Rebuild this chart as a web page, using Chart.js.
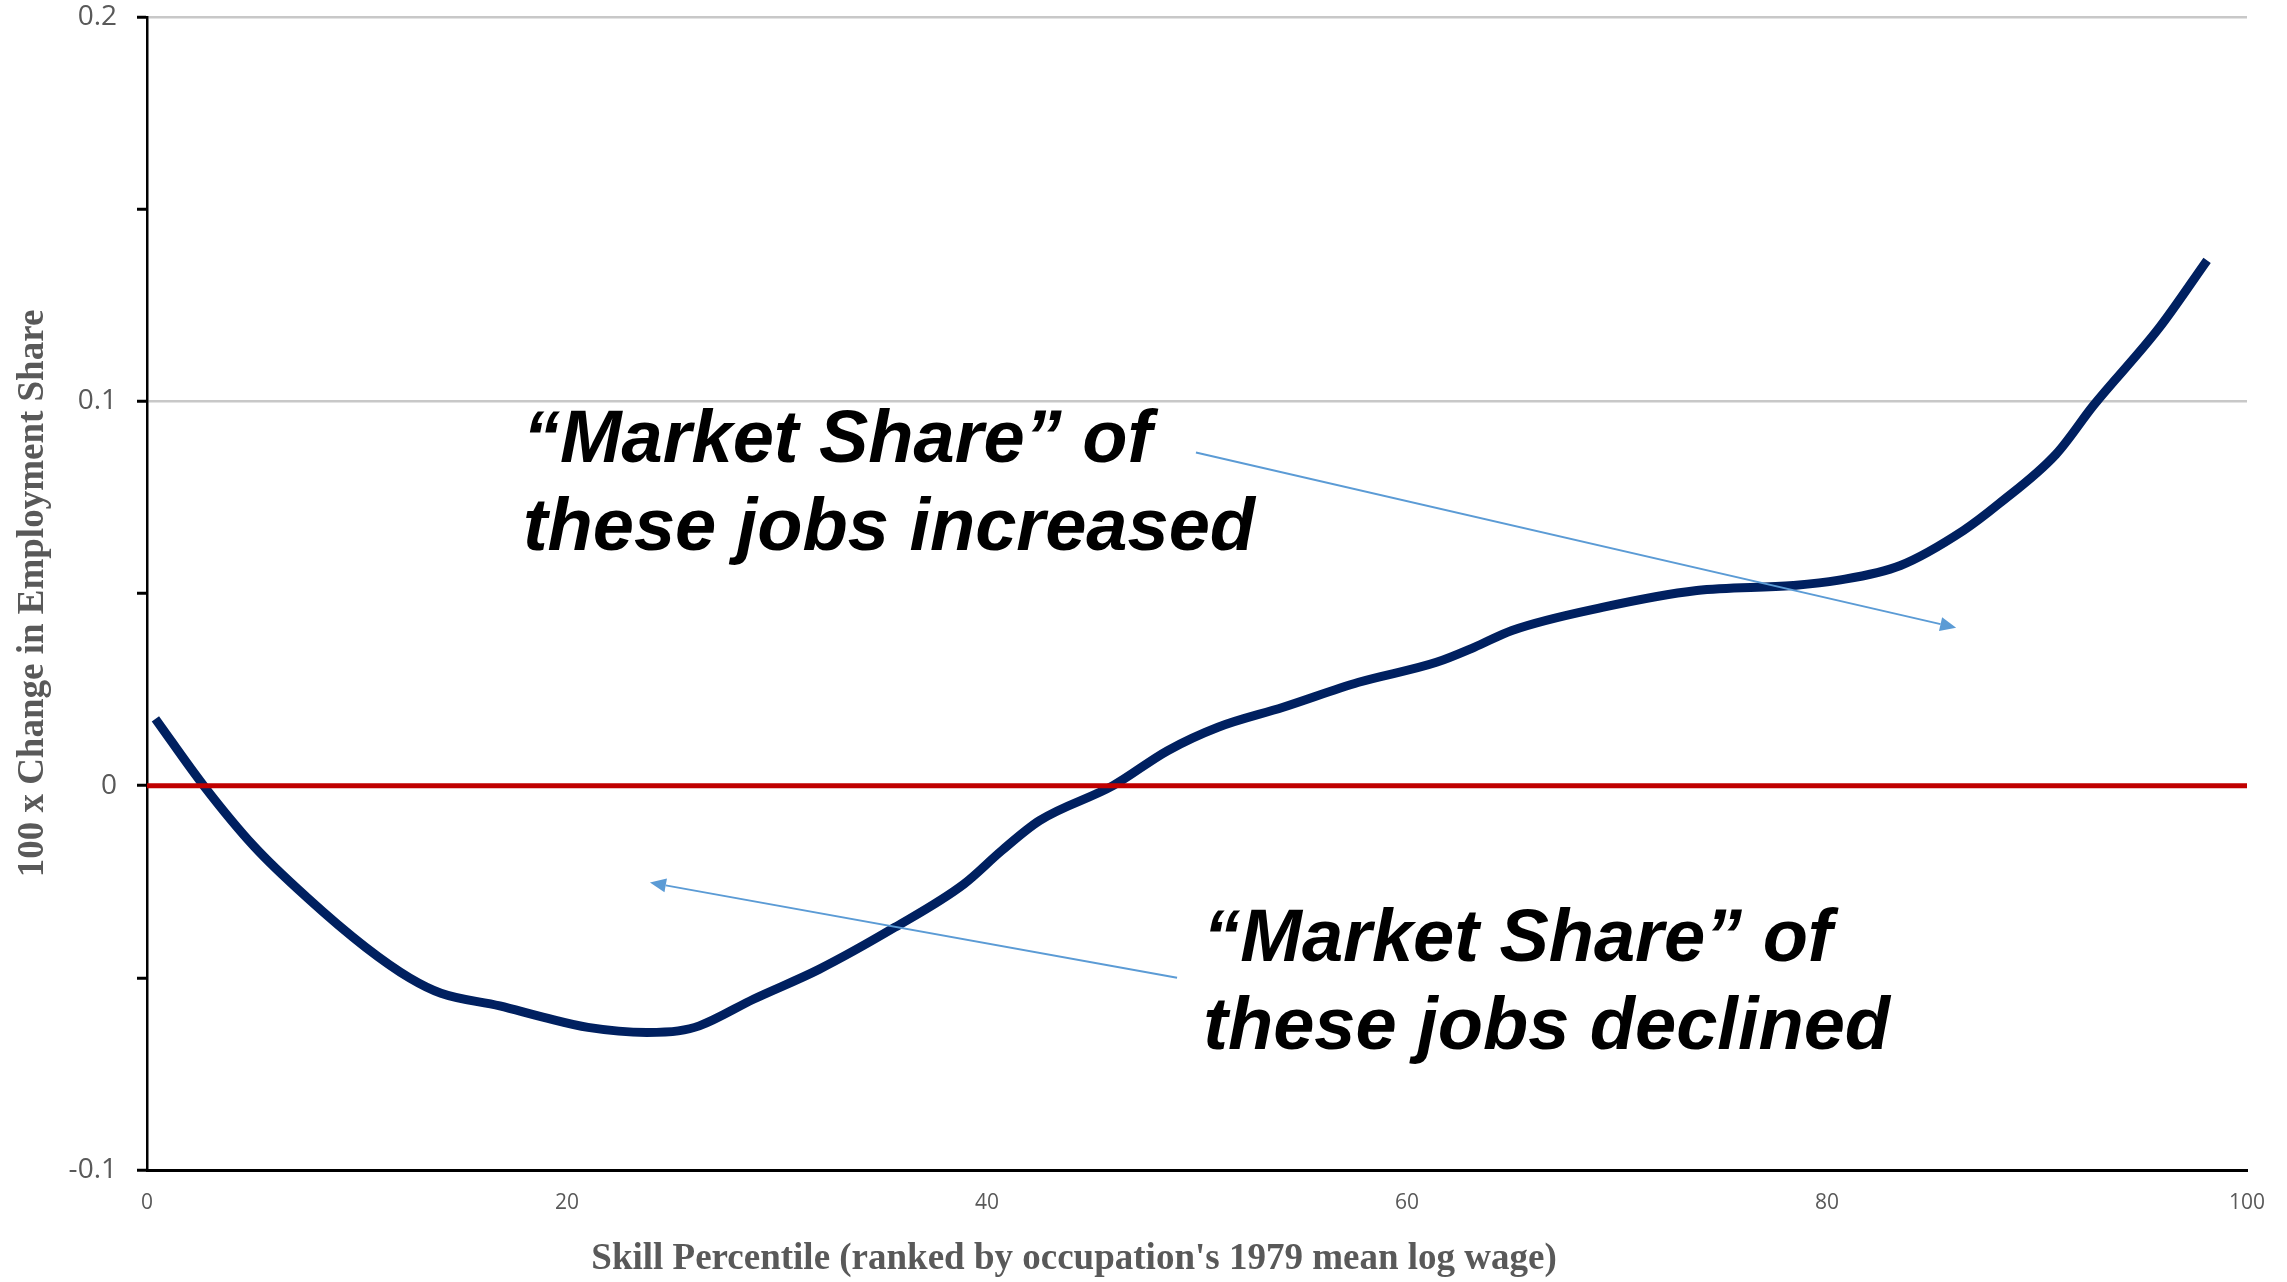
<!DOCTYPE html>
<html>
<head>
<meta charset="utf-8">
<script src="https://cdn.jsdelivr.net/npm/chart.js@4.4.1/dist/chart.umd.min.js"></script>
<style>
  html, body { margin: 0; padding: 0; background: #fff; }
  canvas { display: block; }
</style>
</head>
<body>
<canvas id="skillChart" width="2287" height="1282"></canvas>
<script>
// ---------------------------- data ----------------------------
let skillPct = [0.4, 2.7, 5.1, 7.6, 10.4, 12.5, 14.0, 16.8, 18.9, 21.0, 23.8, 25.3, 26.3, 28.9, 32.0,
  35.6, 38.9, 40.7, 42.5, 46.0, 48.6, 51.0, 54.1, 57.7, 61.4, 63.2, 65.0, 69.3, 73.8, 78.4, 80.5,
  83.5, 86.5, 88.2, 90.9, 92.7, 95.8, 98.1];
let shareChange = [0.0174, 0, -0.0158, -0.029, -0.042, -0.05, -0.054, -0.0573, -0.0603, -0.0629,
  -0.0642, -0.0638, -0.0625, -0.0555, -0.0478, -0.0369, -0.0256, -0.0169, -0.0091, 0, 0.0091, 0.0152,
  0.0204, 0.0269, 0.0321, 0.036, 0.0404, 0.0464, 0.0508, 0.0521, 0.0534, 0.0573, 0.0664, 0.0734,
  0.0862, 0.099, 0.119, 0.1367];

let zeroLineX = [0, 100];
let zeroLineY = [0, 0];

let xTickStep = 20;
let yTickStep = 0.05;
let yMin = -0.1;
let yMax = 0.2;

let xTitle = "Skill Percentile (ranked by occupation's 1979 mean log wage)";
let yTitle = "100 x Change in Employment Share";
let noteUp = ["\u201CMarket Share\u201D of", "these jobs increased"];
let noteDown = ["\u201CMarket Share\u201D of", "these jobs declined"];

// ---------------------------- annotations ----------------------------
const greyText = "#595959";
const arrowBlue = "#5B9BD5";

function drawArrow(ctx, x1, y1, x2, y2) {
  let ang = Math.atan2(y2 - y1, x2 - x1);
  let headLen = 16;
  let headW = 7;
  let bx = x2 - headLen * Math.cos(ang);
  let by = y2 - headLen * Math.sin(ang);
  ctx.strokeStyle = arrowBlue;
  ctx.fillStyle = arrowBlue;
  ctx.lineWidth = 2;
  ctx.beginPath();
  ctx.moveTo(x1, y1);
  ctx.lineTo(bx, by);
  ctx.stroke();
  ctx.beginPath();
  ctx.moveTo(x2, y2);
  ctx.lineTo(bx + headW * Math.sin(ang), by - headW * Math.cos(ang));
  ctx.lineTo(bx - headW * Math.sin(ang), by + headW * Math.cos(ang));
  ctx.closePath();
  ctx.fill();
}

const notesPlugin = {
  id: "notes",
  afterDraw(chart) {
    let ctx = chart.ctx;
    let xs = chart.scales.x;
    let ys = chart.scales.y;
    let area = chart.chartArea;
    ctx.save();

    // arrows (anchored in data space)
    drawArrow(ctx, xs.getPixelForValue(49.95), ys.getPixelForValue(0.0867),
      xs.getPixelForValue(86.15), ys.getPixelForValue(0.0411));
    drawArrow(ctx, xs.getPixelForValue(49.05), ys.getPixelForValue(-0.05),
      xs.getPixelForValue(23.95), ys.getPixelForValue(-0.0252));

    // big notes
    ctx.fillStyle = "#000";
    ctx.font = 'italic bold 74px "Liberation Sans", Arial, sans-serif';
    ctx.textAlign = "left";
    ctx.textBaseline = "alphabetic";
    let lineGap = 88;
    let ux = xs.getPixelForValue(17.9), uy = ys.getPixelForValue(0.0841);
    noteUp.forEach((t, i) => ctx.fillText(t, ux, uy + i * lineGap));
    let dx = xs.getPixelForValue(50.3), dy = ys.getPixelForValue(-0.0456);
    noteDown.forEach((t, i) => ctx.fillText(t, dx, dy + i * lineGap));

    // axis titles
    ctx.fillStyle = greyText;
    ctx.font = 'bold 37px "Liberation Serif", "Times New Roman", serif';
    ctx.textAlign = "center";
    ctx.fillText(xTitle, 1074, 1269);

    ctx.translate(33, (area.top + area.bottom) / 2);
    ctx.rotate(-Math.PI / 2);
    ctx.textBaseline = "middle";
    ctx.fillText(yTitle, 0, 0);
    ctx.restore();
  },
};

// ---------------------------- chart ----------------------------
const canvas = document.getElementById("skillChart");

let isTenth = (v) => Math.abs(v * 10 - Math.round(v * 10)) < 1e-6;

new Chart(canvas, {
  type: "line",
  data: {
    datasets: [
      {
        label: "zero",
        data: zeroLineX.map((x, i) => ({ x: x, y: zeroLineY[i] })),
        borderColor: "#C00000",
        borderWidth: 5,
        pointRadius: 0,
        borderCapStyle: "butt",
      },
      {
        label: "Change in employment share",
        data: skillPct.map((x, i) => ({ x: x, y: shareChange[i] })),
        borderColor: "#002060",
        borderWidth: 9,
        pointRadius: 0,
        borderCapStyle: "butt",
        cubicInterpolationMode: "monotone",
      },
    ],
  },
  options: {
    responsive: false,
    animation: false,
    devicePixelRatio: 1,
    layout: { padding: { top: 17, right: 40, left: 0, bottom: 0 } },
    plugins: {
      legend: { display: false },
      tooltip: { enabled: false },
    },
    scales: {
      x: {
        type: "linear",
        min: 0,
        max: 100,
        afterFit: (scale) => {
          scale.height = 112;
          scale.paddingLeft = 0;
          scale.paddingRight = 0;
        },
        ticks: {
          stepSize: xTickStep,
          color: greyText,
          padding: 20,
          maxRotation: 0,
          font: { family: '"Open Sans", sans-serif', size: 21 },
        },
        grid: { display: true, color: "rgba(0,0,0,0)", drawTicks: false },
        border: { display: true, color: "#000", width: 3 },
      },
      y: {
        type: "linear",
        min: yMin,
        max: yMax,
        afterFit: (scale) => {
          scale.width = 147;
          scale.paddingTop = 0;
          scale.paddingBottom = 0;
        },
        ticks: {
          stepSize: yTickStep,
          color: greyText,
          padding: 20,
          font: { family: '"Open Sans", sans-serif', size: 28 },
          callback: (v) => (isTenth(v) ? String(Math.round(v * 10) / 10) : ""),
        },
        grid: {
          lineWidth: 2.5,
          tickLength: 10,
          tickWidth: 3,
          tickColor: "#000",
          color: (c) => {
            let v = c.tick ? c.tick.value : 0;
            return isTenth(v) && v > 0.05 ? "#C8C8C8" : "rgba(0,0,0,0)";
          },
        },
        border: { display: true, color: "#000", width: 2.5 },
      },
    },
  },
  plugins: [notesPlugin],
});
</script>
</body>
</html>
